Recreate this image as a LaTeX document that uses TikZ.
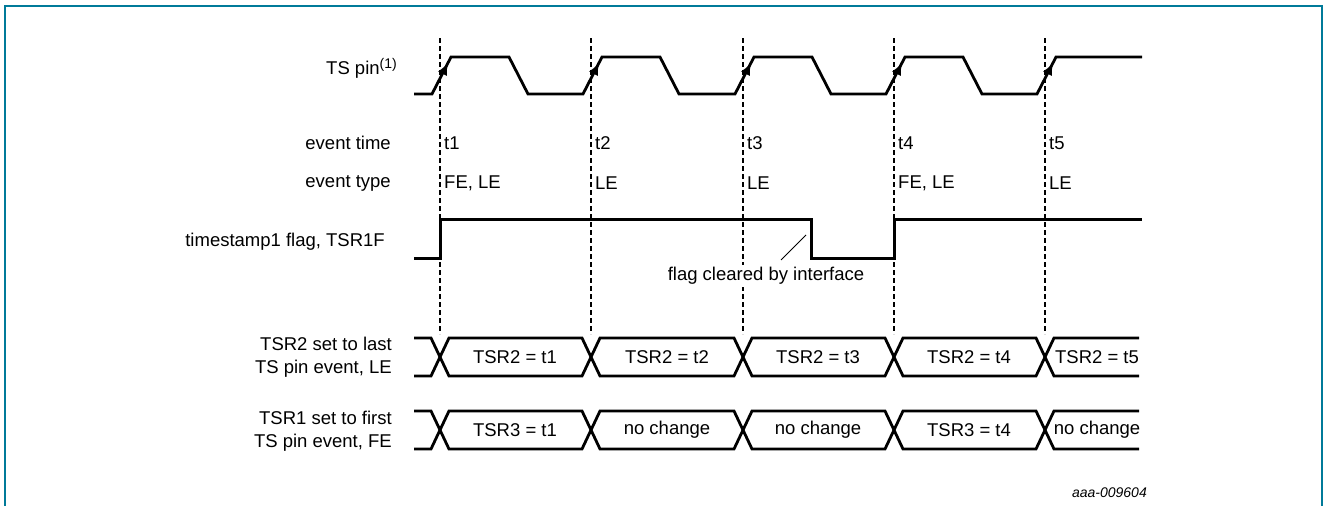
\documentclass[tikz,border=0pt]{standalone}
\usepackage{fontspec}
\setmainfont{Liberation Sans}
\usepackage{xcolor}
\usepackage{tikz}
\usetikzlibrary{arrows.meta,positioning}

\definecolor{framecol}{RGB}{0,122,153}

\begin{document}
\begin{tikzpicture}[
  x=1pt, y=-1pt,
  font=\fontsize{18.5}{23}\selectfont,
  lbl/.style={anchor=east, align=right, inner sep=0pt},
  evt/.style={anchor=west, inner sep=0pt},
  val/.style={inner sep=0pt},
  wave/.style={line width=2.8pt, line join=miter},
  guide/.style={line width=1.2pt, dash pattern=on 5pt off 3pt},
  arr/.style={-{Latex[length=12pt,width=10pt]}, line width=1.5pt},
  frame/.style={draw=framecol, line width=1.6pt}
]
  \useasboundingbox (0,0) rectangle (1328,506);
  \draw[frame] (5,506) -- (5,6) -- (1322,6) -- (1322,506);

  % event times
  \draw[guide] (440,38) -- (440,334);
  \draw[guide] (591,38) -- (591,334);
  \draw[guide] (743,38) -- (743,334);
  \draw[guide] (894,38) -- (894,334);
  \draw[guide] (1045,38) -- (1045,334);

  % row labels
  \node[lbl] (pinlbl) at (397,68) {TS pin\raisebox{6pt}{\fontsize{14}{14}\selectfont(1)}};
  \node[lbl] (timelbl) at (391,143) {event time};
  \node[lbl] (typelbl) at (391,183) {event type};
  \node[lbl] (flaglbl) at (385,242) {timestamp1 flag, TSR1F};
  \node[lbl] (lelbl) at (392,357) {TSR2 set to last\\TS pin event, LE};
  \node[lbl] (felbl) at (392,431) {TSR1 set to first\\TS pin event, FE};

  % TS pin
  \draw[wave] (414,94) -- (432,94) -- (451,57) -- (509,57) -- (528,94)
    -- (583,94) -- (602,57) -- (660,57) -- (679,94)
    -- (735,94) -- (754,57) -- (812,57) -- (831,94)
    -- (886,94) -- (905,57) -- (963,57) -- (982,94)
    -- (1037,94) -- (1056,57) -- (1142,57);
  \draw[arr] (432,94) -- (448,63);
  \draw[arr] (583,94) -- (599,63);
  \draw[arr] (735,94) -- (751,63);
  \draw[arr] (886,94) -- (902,63);
  \draw[arr] (1037,94) -- (1053,63);

  \node[evt] (e1) at (444,143) {t1};
  \node[evt] (e2) at (595,143) {t2};
  \node[evt] (e3) at (747,143) {t3};
  \node[evt] (e4) at (898,143) {t4};
  \node[evt] (e5) at (1049,143) {t5};

  \node[evt] (k1) at (444,183) {FE, LE};
  \node[evt] (k2) at (595,183) {LE};
  \node[evt] (k3) at (747,183) {LE};
  \node[evt] (k4) at (898,183) {FE, LE};
  \node[evt] (k5) at (1049,183) {LE};

  % TSR1F
  \draw[wave, line width=3pt] (414,258) -- (440,258) -- (440,219) -- (811,219) -- (811,258)
    -- (894,258) -- (894,219) -- (1142,219);
  \node[fill=white, inner sep=2pt] (clr) at (766,276) {flag cleared by interface};
  \coordinate (clrtip) at (806,235);
  \draw[line width=1pt] (781,260) -- (clrtip);

  % TSR2
  \draw[wave] (414,338) -- (431,338) -- (449,376) -- (582,376) -- (600,338)
    -- (734,338) -- (752,376) -- (885,376) -- (903,338) -- (1036,338)
    -- (1054,376) -- (1139,376);
  \draw[wave] (414,376) -- (431,376) -- (449,338) -- (582,338) -- (600,376)
    -- (734,376) -- (752,338) -- (885,338) -- (903,376) -- (1036,376)
    -- (1054,338) -- (1139,338);
  \node[val] (r21) at (515,357) {TSR2 = t1};
  \node[val] (r22) at (667,357) {TSR2 = t2};
  \node[val] (r23) at (818,357) {TSR2 = t3};
  \node[val] (r24) at (969,357) {TSR2 = t4};
  \node[val] (r25) at (1097,357) {TSR2 = t5};

  % TSR3
  \draw[wave] (414,411) -- (431,411) -- (449,449) -- (582,449) -- (600,411)
    -- (734,411) -- (752,449) -- (885,449) -- (903,411) -- (1036,411)
    -- (1054,449) -- (1139,449);
  \draw[wave] (414,449) -- (431,449) -- (449,411) -- (582,411) -- (600,449)
    -- (734,449) -- (752,411) -- (885,411) -- (903,449) -- (1036,449)
    -- (1054,411) -- (1139,411);
  \node[val] (r31) at (515,430) {TSR3 = t1};
  \node[val] (r32) at (667,430) {no change};
  \node[val] (r33) at (818,430) {no change};
  \node[val] (r34) at (969,430) {TSR3 = t4};
  \node[val] (r35) at (1097,430) {no change};

  \node[anchor=east, inner sep=0pt, font=\fontsize{14}{16}\selectfont\itshape] (fig) at (1147,493) {aaa-009604};
\end{tikzpicture}
\end{document}
